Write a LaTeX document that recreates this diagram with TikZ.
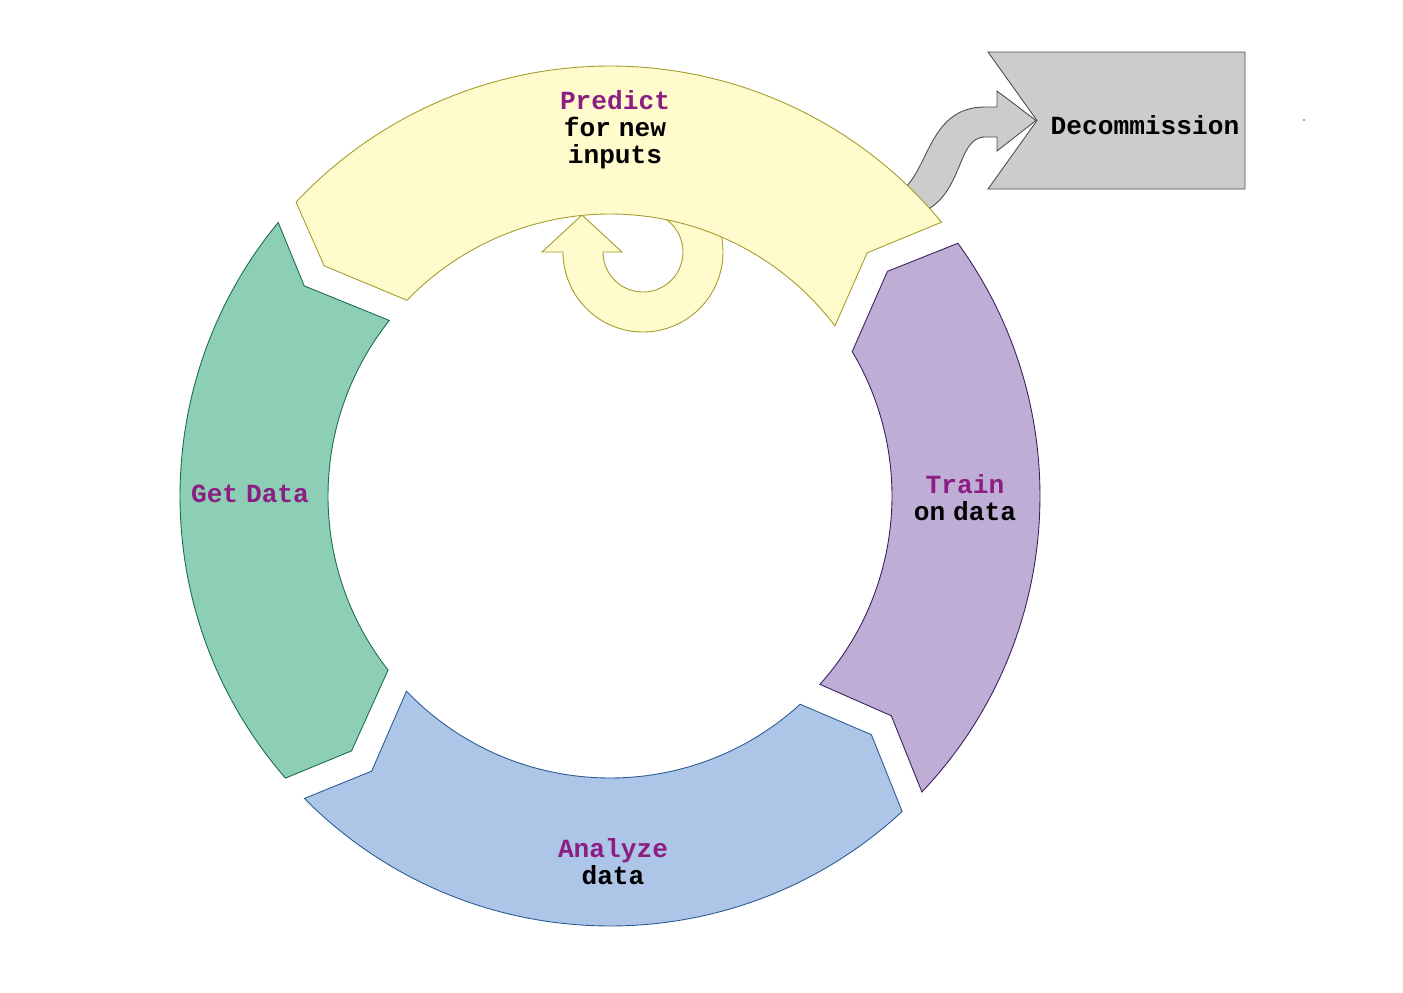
\documentclass[tikz,border=0pt]{standalone}
\usepackage{fontspec}
\newfontfamily\lblfont[WordSpace=0.5]{Liberation Mono}
\definecolor{getfill}{HTML}{8DCFB5}
\definecolor{getdraw}{HTML}{1D6B4F}
\definecolor{anafill}{HTML}{ADC5E7}
\definecolor{anadraw}{HTML}{2A5C94}
\definecolor{trnfill}{HTML}{BEADD5}
\definecolor{trndraw}{HTML}{3B1F5C}
\definecolor{prdfill}{HTML}{FFFBCC}
\definecolor{prddraw}{HTML}{A39C2A}
\definecolor{decfill}{HTML}{CCCCCC}
\definecolor{decdraw}{HTML}{4D4D4D}
\definecolor{titlecol}{HTML}{8C1D82}
\tikzset{
  segment/.style={line width=0.5pt, line join=miter},
  lbl/.style={font=\lblfont\bfseries\fontsize{14.9}{15.4}\selectfont, align=center, inner sep=0pt},
}
\begin{document}
\begin{tikzpicture}[x=0.02cm, y=0.02cm]
    \useasboundingbox (-610,-496) rectangle (793,496);

    % exit arrow, its tail goes under the predict band
    \draw[segment, fill=decfill, draw=decdraw] (285,301) .. controls (320,318) and (315,389) .. (375,389)
        -- (387,389) -- (387,405) -- (426,375.5) -- (387,345) -- (387,359) -- (375,359)
        .. controls (345,359) and (355,296) .. (305,281) -- cycle;

    % loop back into predict
    \draw[segment, fill=prdfill, draw=prddraw] (-47,244) arc[start angle=180, end angle=440, radius=80]
        -- ++(260:40) arc[start angle=440, end angle=180, radius=40]
        -- (12,244) -- (-28,281) -- (-68,244) -- cycle;

    % the four bands of the cycle
    \draw[segment, fill=getfill, draw=getdraw] (140.5:430) arc[start angle=140.5, end angle=221, radius=430]
        -- (224.6:363) -- (218.1:282) arc[start angle=218.1, end angle=141.5, radius=282] -- (145.5:371) -- cycle;
    \draw[segment, fill=anafill, draw=anadraw] (224.7:430) arc[start angle=224.7, end angle=312.8, radius=430]
        -- (317.6:354) -- (312.4:282) arc[start angle=312.4, end angle=223.8, radius=282] -- (229.1:364) -- cycle;
    \draw[segment, fill=trnfill, draw=trndraw] (316.5:430) arc[start angle=316.5, end angle=396, radius=430]
        -- (399:357) -- (390.8:282) arc[start angle=390.8, end angle=318.1, radius=282] -- (322:357) -- cycle;
    \draw[segment, fill=prdfill, draw=prddraw] (39.55:430) arc[start angle=39.55, end angle=136.9, radius=430]
        -- (141.15:367) -- (136.05:282) arc[start angle=136.05, end angle=37.1, radius=282] -- (43.4:354) -- cycle;

    % decommission box
    \draw[segment, fill=decfill, draw=decdraw] (378,444) -- (635,444) -- (635,307) -- (378,307) -- (427,375.5) -- cycle;
    \fill[decdraw] (694,376) circle[radius=0.8];

    \node[lbl, text=titlecol] (getdata) at (-360,2) {Get Data};
    \node[lbl] (analyze) at (3,-366) {\textcolor{titlecol}{Analyze}\\data};
    \node[lbl] (train) at (355,-2) {\textcolor{titlecol}{Train}\\on data};
    \node[lbl] (predict) at (5,366) {\textcolor{titlecol}{Predict}\\for new\\inputs};
    \node[lbl] (decom) at (535,371) {Decommission};
\end{tikzpicture}
\end{document}
